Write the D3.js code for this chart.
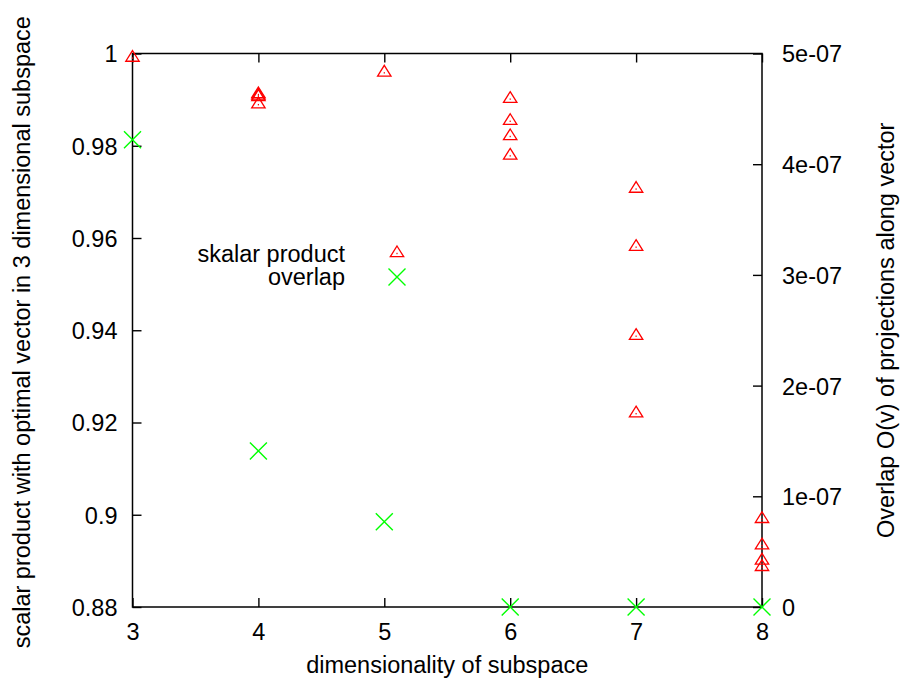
<!DOCTYPE html>
<html>
<head>
<meta charset="utf-8">
<script src="https://cdn.jsdelivr.net/npm/d3@7/dist/d3.min.js"></script>
<style>
  html, body { margin: 0; padding: 0; background: #fff; }
  svg { display: block; }
  text { font-family: "Liberation Sans", Arial, sans-serif; fill: #000; }
</style>
</head>
<body>
<svg id="chart" width="906" height="684"></svg>
<script>
// ---- data ----
const skalarDims   = [3, 4, 4, 4, 4, 5, 6, 6, 6, 6, 7, 7, 7, 7, 8, 8, 8, 8];
const skalarValues = [0.9989, 0.9910, 0.9907, 0.9904, 0.9888, 0.9957,
                      0.9900, 0.9852, 0.9819, 0.9777,
                      0.9705, 0.9579, 0.9386, 0.9218,
                      0.8989, 0.8932, 0.8899, 0.8885];
const overlapDims   = [3, 4, 5, 6, 7, 8];
const overlapValues = [4.22e-7, 1.41e-7, 0.77e-7, 0, 0, 0];

const xTicks  = [3, 4, 5, 6, 7, 8];
const yTicks  = [0.88, 0.9, 0.92, 0.94, 0.96, 0.98, 1];
const yTickLabels = ["0.88", "0.9", "0.92", "0.94", "0.96", "0.98", "1"];
const y2Ticks = [0, 1e-7, 2e-7, 3e-7, 4e-7, 5e-7];
const y2TickLabels = ["0", "1e-07", "2e-07", "3e-07", "4e-07", "5e-07"];

const xLabel  = "dimensionality of subspace";
const yLabel  = "scalar product with optimal vector in 3 dimensional subspace";
const y2Label = "Overlap O(v) of projections along vector";
const legendLabels = ["skalar product", "overlap"];

// ---- layout ----
const L = 132.5, R = 762, T = 53.5, B = 607;
const FS = 23.5;
const svg = d3.select("#chart");

const x  = d3.scaleLinear().domain([3, 8]).range([L, R]);
const y  = d3.scaleLinear().domain([0.88, 1]).range([B, T]);
const y2 = d3.scaleLinear().domain([0, 5e-7]).range([B, T]);

const TL = 9;
const axisStyle = g => {
  g.select(".domain").remove();
  g.selectAll(".tick line").attr("stroke", "#000").attr("stroke-width", 1.4);
  g.selectAll(".tick text").style("font-size", FS + "px").attr("fill", "#000")
    .style("font-family", '"Liberation Sans", Arial, sans-serif');
};

// bottom axis (ticks inward)
svg.append("g").attr("transform", `translate(0,${B})`)
  .call(d3.axisBottom(x).tickValues(xTicks).tickFormat(d3.format("d"))
        .tickSizeInner(-TL).tickSizeOuter(0).tickPadding(0))
  .call(axisStyle)
  .call(g => g.selectAll(".tick text").attr("y", 0).attr("dy", null)
                .attr("transform", "translate(0,32.5)"));
// top mirror ticks
svg.append("g").attr("transform", `translate(0,${T})`)
  .call(d3.axisTop(x).tickValues(xTicks).tickFormat("").tickSizeInner(-TL).tickSizeOuter(0))
  .call(axisStyle);
// left axis
svg.append("g").attr("transform", `translate(${L},0)`)
  .call(d3.axisLeft(y).tickValues(yTicks).tickFormat((d, i) => yTickLabels[i])
        .tickSizeInner(-TL).tickSizeOuter(0).tickPadding(0))
  .call(axisStyle)
  .call(g => g.selectAll(".tick text").attr("x", -15).attr("dy", "0.36em"));
// right axis
svg.append("g").attr("transform", `translate(${R},0)`)
  .call(d3.axisRight(y2).tickValues(y2Ticks).tickFormat((d, i) => y2TickLabels[i])
        .tickSizeInner(-TL).tickSizeOuter(0).tickPadding(0))
  .call(axisStyle)
  .call(g => g.selectAll(".tick text").attr("x", 20).attr("dy", "0.36em"));

// frame
svg.append("rect").attr("x", L).attr("y", T).attr("width", R - L).attr("height", B - T)
  .attr("fill", "none").attr("stroke", "#000").attr("stroke-width", 1.5);

// axis labels
svg.append("text").attr("x", (L + R) / 2).attr("y", 673).attr("text-anchor", "middle")
  .style("font-size", FS + "px").text(xLabel);
svg.append("text").attr("transform", `translate(30,${(T + B) / 2 + 2}) rotate(-90)`)
  .attr("text-anchor", "middle").style("font-size", FS + "px").text(yLabel);
svg.append("text").attr("transform", `translate(894,${(T + B) / 2}) rotate(-90)`)
  .attr("text-anchor", "middle").style("font-size", FS + "px").text(y2Label);

// markers
const triPath = "M0,-8L6.7,2.7L-6.7,2.7Z";
const xPath = "M-8.5,-8.5L8.5,8.5M-8.5,8.5L8.5,-8.5";
function drawTri(g, px, py) {
  g.append("path").attr("transform", `translate(${px},${py})`).attr("d", triPath)
    .attr("fill", "none").attr("stroke", "#ff0000").attr("stroke-width", 1.3);
  g.append("rect").attr("x", px - 0.6).attr("y", py - 1.2).attr("width", 1.2).attr("height", 1.4)
    .attr("fill", "#ff0000");
}
function drawX(g, px, py) {
  g.append("path").attr("transform", `translate(${px},${py})`).attr("d", xPath)
    .attr("fill", "none").attr("stroke", "#00ff00").attr("stroke-width", 1.4);
}

const pts = svg.append("g");
skalarDims.forEach((d, i) => drawTri(pts, x(d), y(skalarValues[i])));
overlapDims.forEach((d, i) => drawX(pts, x(d), y2(overlapValues[i])));

// legend
const leg = svg.append("g");
leg.append("text").attr("x", 345).attr("y", 261.5).attr("text-anchor", "end")
  .style("font-size", FS + "px").text(legendLabels[0]);
leg.append("text").attr("x", 345).attr("y", 285).attr("text-anchor", "end")
  .style("font-size", FS + "px").text(legendLabels[1]);
drawTri(leg, 397, 254);
drawX(leg, 397, 277);
</script>
</body>
</html>
